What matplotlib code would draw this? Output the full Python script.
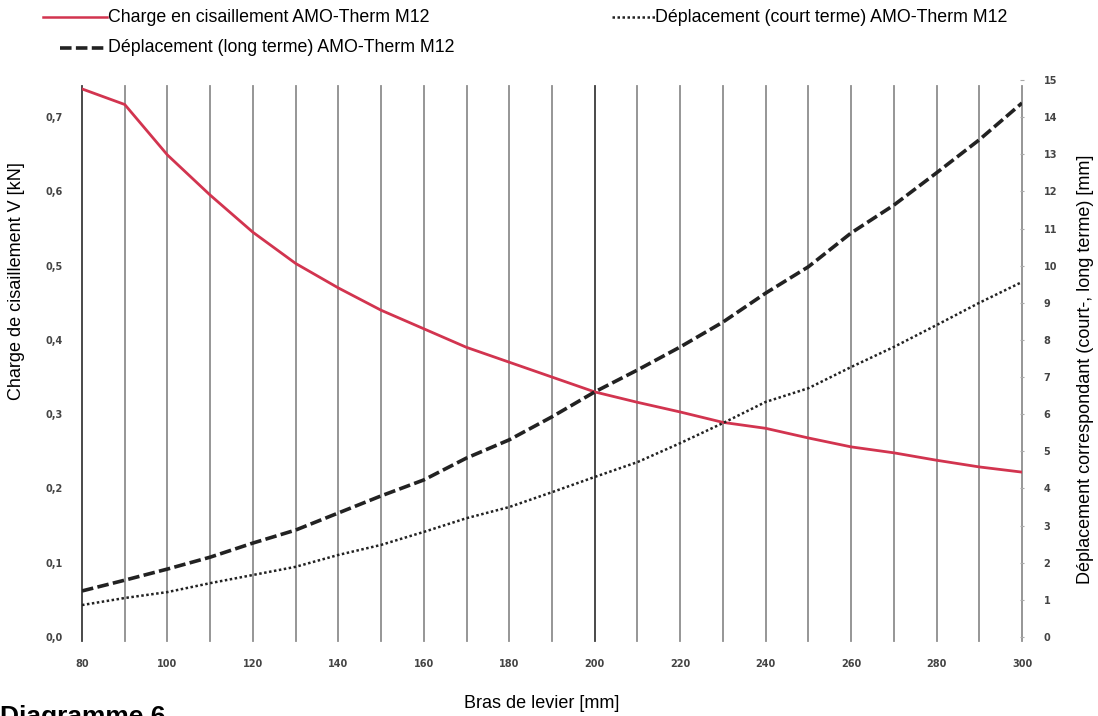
import matplotlib
matplotlib.use("Agg")
import matplotlib.pyplot as plt
from matplotlib.lines import Line2D
from matplotlib.ticker import MultipleLocator, FixedLocator

# ---- data ----
lever_arm = [80, 90, 100, 110, 120, 130, 140, 150, 160, 170, 180, 190, 200,
             210, 220, 230, 240, 250, 260, 270, 280, 290, 300]
shear_load = [0.738, 0.717, 0.649, 0.595, 0.545, 0.503, 0.470, 0.440, 0.415,
              0.390, 0.370, 0.350, 0.330, 0.316, 0.303, 0.289, 0.281, 0.268,
              0.256, 0.248, 0.238, 0.229, 0.222]
disp_long = [1.24, 1.53, 1.83, 2.15, 2.53, 2.88, 3.34, 3.80, 4.23, 4.82, 5.31,
             5.93, 6.60, 7.19, 7.81, 8.48, 9.26, 9.97, 10.88, 11.63, 12.50,
             13.39, 14.38]
disp_short = [0.86, 1.05, 1.21, 1.45, 1.67, 1.89, 2.21, 2.48, 2.83, 3.20, 3.50,
              3.90, 4.31, 4.71, 5.22, 5.76, 6.33, 6.70, 7.27, 7.81, 8.40, 9.00,
              9.56]
x_ticks = [80, 100, 120, 140, 160, 180, 200, 220, 240, 260, 280, 300]
left_ticks = [0.0, 0.1, 0.2, 0.3, 0.4, 0.5, 0.6, 0.7]
left_tick_labels = ["0,0", "0,1", "0,2", "0,3", "0,4", "0,5", "0,6", "0,7"]
right_ticks = list(range(0, 16))

label_red = "Charge en cisaillement AMO-Therm M12"
label_long = "Déplacement (long terme) AMO-Therm M12"
label_short = "Déplacement (court terme) AMO-Therm M12"

W, H = 1098, 716
fig = plt.figure(figsize=(W / 100, H / 100), dpi=100)
plt.rcParams['font.family'] = ['Liberation Sans', 'DejaVu Sans']

ax_l, ax_r, ax_b, ax_t = 82, 1022, 637, 80
ax = fig.add_axes([ax_l / W, 1 - ax_b / H, (ax_r - ax_l) / W, (ax_b - ax_t) / H])
ax2 = ax.twinx()

ax.set_xlim(80, 300)
ax.set_ylim(0, 0.75)
ax2.set_ylim(0, 15)

for a in (ax, ax2):
    for s in a.spines.values():
        s.set_visible(False)

# vertical grid lines every 10 mm (from the axis' own minor locator)
ax.xaxis.set_major_locator(FixedLocator(x_ticks))
ax.xaxis.set_minor_locator(MultipleLocator(10))
x0, x1 = ax.get_xlim()
grid_pos = sorted(set(ax.xaxis.get_minorticklocs().tolist() + x_ticks))
for xv in grid_pos:
    if xv < x0 - 1e-6 or xv > x1 + 1e-6:
        continue
    dark = xv in (80, 200)
    ax.axvline(xv, ymin=-0.008, ymax=0.99, color="#3c3c3c" if dark else "#8e8e8e",
               lw=1.3, clip_on=False, zorder=1)

tick_font = dict(family='DejaVu Sans', size=7, weight='bold', color='#444444')
ax.set_xticks(x_ticks)
ax.set_xticklabels([str(t) for t in x_ticks], **tick_font)
ax.tick_params(axis='x', which='both', direction='out', length=0, pad=16)
ax.set_yticks(left_ticks)
ax.set_yticklabels(left_tick_labels, **tick_font)
ax.tick_params(axis='y', length=0, pad=14)
ax2.set_yticks(right_ticks)
ax2.set_yticklabels([str(t) for t in right_ticks], **tick_font)
ax2.tick_params(axis='y', direction='inout', length=3, width=0.8,
                color='#aaaaaa', pad=14)

red = "#d2344f"
ax.plot(lever_arm, shear_load, color=red, lw=2.0, zorder=4)
ax2.plot(lever_arm, disp_long, color="#222222", lw=2.6,
         linestyle=(0, (3.2, 1.2)), zorder=4)
ax2.plot(lever_arm, disp_short, color="#222222", lw=1.8,
         linestyle=(0, (1.0, 1.0)), zorder=4)

# axis labels
fig.text(17 / W, 1 - 281 / H, "Charge de cisaillement V [kN]", rotation=90,
         ha='center', va='center', fontsize=13)
fig.text(1085 / W, 1 - 369 / H, "Déplacement correspondant (court-, long terme) [mm]",
         rotation=90, ha='center', va='center', fontsize=13)
fig.text(542 / W, 1 - 704 / H, "Bras de levier [mm]", ha='center', va='center',
         fontsize=13)
fig.text(0.0, 1 - 705 / H, "Diagramme 6", ha='left', va='top', fontsize=19,
         weight='bold')

# legend
def handle(xa, xb, y, **kw):
    fig.add_artist(Line2D([xa / W, xb / W], [1 - y / H, 1 - y / H],
                          transform=fig.transFigure, **kw))

handle(43, 107, 17, color=red, lw=1.8)
handle(60, 107, 48, color="#222222", lw=2.6, linestyle=(0, (3.2, 1.2)))
handle(612, 655, 17, color="#222222", lw=1.8, linestyle=(0, (1.0, 1.0)))
fig.text(108 / W, 1 - 17 / H, label_red, ha='left', va='center', fontsize=12.8)
fig.text(108 / W, 1 - 48 / H, label_long, ha='left', va='center', fontsize=12.8)
fig.text(655 / W, 1 - 17 / H, label_short, ha='left', va='center', fontsize=12.8)

fig.savefig("out.png", dpi=100)
